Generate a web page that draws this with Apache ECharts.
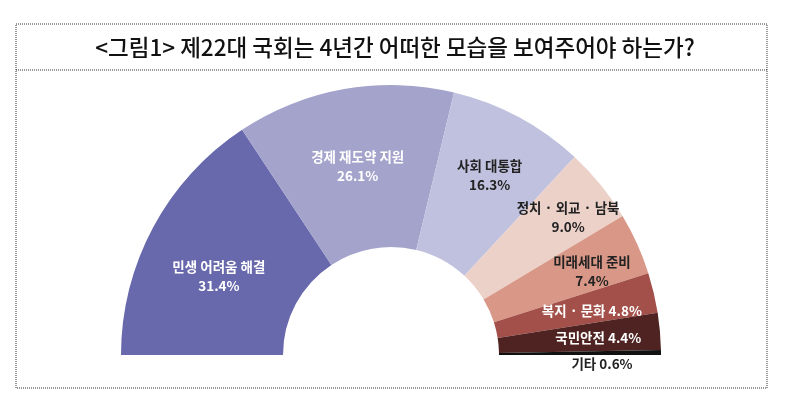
<!DOCTYPE html>
<html>
<head>
<meta charset="utf-8">
<script src="https://cdn.jsdelivr.net/npm/echarts@6/dist/echarts.min.js"></script>
<style>
  html, body { margin: 0; padding: 0; background: #fff; }
  #chart { width: 800px; height: 418px; }
</style>
</head>
<body>
<div id="chart"></div>
<script>
// 응답 항목과 비율(%)
var categories = ['민생 어려움 해결', '경제 재도약 지원', '사회 대통합', '정치·외교·남북', '미래세대 준비', '복지·문화', '국민안전', '기타'];
var values = [31.4, 26.1, 16.3, 9.0, 7.4, 4.8, 4.4, 0.6];
var titleText = '<그림1> 제22대 국회는 4년간 어떠한 모습을 보여주어야 하는가?';

var colors = ['#6868ad', '#a3a3cc', '#c0c1de', '#ecd1c9', '#d99787', '#a4504a', '#4f2321', '#111111'];
var labelColors = ['#fff', '#fff', '#222', '#222', '#222', '#fff', '#fff', '#222'];
var labelOffsets = [[-3, 12], [0, 0], [8, -10], [28, -17], [26, -5], [14, 0], [16, 0], [19, 11]];
var oneLine = ['복지·문화', '국민안전', '기타'];

function labelText(name, v) {
  var shown = name.replace(/·/g, ' · ');
  var pct = v.toFixed(1) + '%';
  return oneLine.indexOf(name) >= 0 ? shown + ' ' + pct : shown + '\n' + pct;
}

var seriesData = categories.map(function (c, i) {
  return {
    name: c,
    value: values[i],
    itemStyle: { color: colors[i] },
    label: { color: labelColors[i], offset: labelOffsets[i] }
  };
});

var chart = echarts.init(document.getElementById('chart'));
chart.setOption({
  animation: false,
  graphic: [
    { type: 'rect', shape: { x: 16, y: 24, width: 751, height: 364 },
      style: { fill: 'none', stroke: '#333', lineWidth: 1, lineDash: [1, 1] } },
    { type: 'line', shape: { x1: 16, y1: 70, x2: 767, y2: 70 },
      style: { stroke: '#333', lineWidth: 1, lineDash: [1, 1] } },
    { type: 'text', x: 395, y: 47,
      style: { text: titleText, fill: '#111', font: '500 22.5px "Noto Sans CJK KR"',
               align: 'center', verticalAlign: 'middle' } }
  ],
  series: [{
    type: 'pie',
    center: [391, 355],
    radius: [108, 270],
    startAngle: 180,
    endAngle: 0,
    clockwise: true,
    avoidLabelOverlap: false,
    label: {
      show: true,
      position: 'inside',
      fontFamily: 'Noto Sans CJK KR',
      fontSize: 13.5,
      fontWeight: 'bold',
      lineHeight: 19,
      formatter: function (p) { return labelText(p.name, p.value); }
    },
    labelLine: { show: false },
    emphasis: { disabled: true },
    data: seriesData
  }]
});
</script>
</body>
</html>
